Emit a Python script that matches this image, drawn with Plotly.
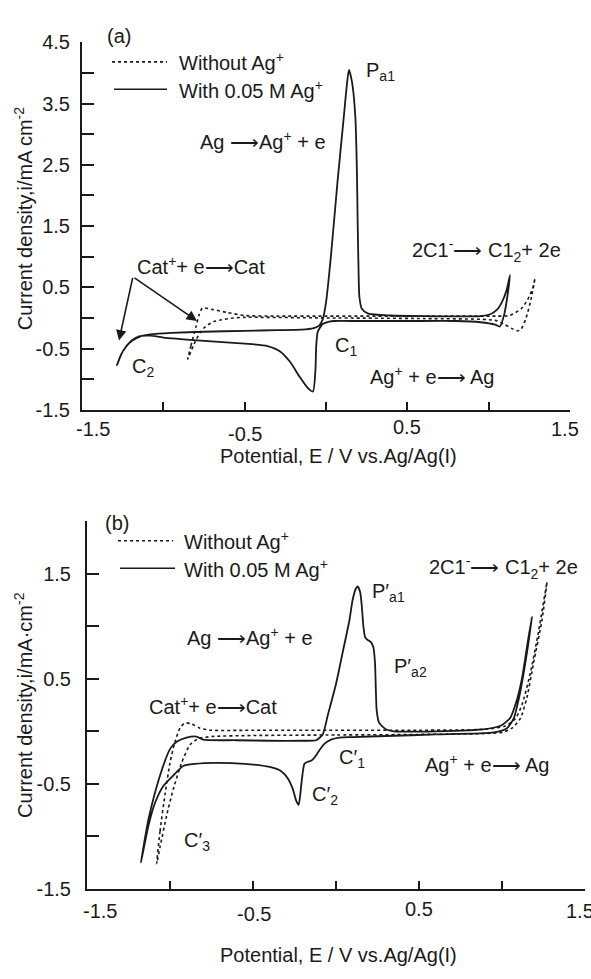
import plotly.graph_objects as go

W, H = 591, 979

# ---------------- Panel (a) data ----------------
E_a_without = [-0.85, -0.83, -0.80, -0.78, -0.76, -0.70, -0.61, -0.50, -0.30, 0.00, 0.50, 0.90,
               1.05, 1.13, 1.20, 1.24, 1.27, 1.285,
               1.26, 1.23, 1.20, 1.18, 1.14, 1.10, 1.04, 0.60, 0.00, -0.50, -0.57, -0.64, -0.69,
               -0.74, -0.77, -0.81, -0.85]
i_a_without = [-0.67, -0.45, -0.15, 0.05, 0.16, 0.14, 0.09, 0.04, 0.03, 0.03, 0.03, 0.03,
               0.03, 0.04, 0.15, 0.30, 0.48, 0.65,
               0.30, 0.00, -0.18, -0.21, -0.17, -0.11, -0.04, -0.01, 0.00, 0.01, 0.00, -0.03, -0.06,
               -0.14, -0.22, -0.42, -0.67]

E_a_with = [-1.285, -1.26, -1.23, -1.19, -1.14, -1.08, -0.95, -0.75, -0.50, -0.30, -0.15, -0.08,
            -0.04, -0.02, 0.00, 0.03, 0.07, 0.11, 0.13, 0.141, 0.16, 0.18, 0.19, 0.195, 0.20,
            0.205, 0.22, 0.26, 0.40, 0.60, 0.80, 0.95, 1.01, 1.05, 1.08, 1.11, 1.131,
            1.115, 1.095, 1.069, 1.04, 0.95, 0.80, 0.50, 0.20, 0.05, 0.02, -0.02, -0.05, -0.06,
            -0.065, -0.08, -0.11, -0.16, -0.22, -0.28, -0.36, -0.50, -0.77, -1.00, -1.08, -1.15,
            -1.20, -1.25, -1.285]
i_a_with = [-0.77, -0.60, -0.47, -0.37, -0.30, -0.27, -0.245, -0.225, -0.21, -0.20, -0.19, -0.17,
            -0.12, -0.02, 0.25, 1.00, 2.20, 3.30, 3.85, 4.05, 3.85, 3.30, 2.40, 1.50, 0.80,
            0.35, 0.15, 0.07, 0.04, 0.03, 0.025, 0.03, 0.06, 0.13, 0.25, 0.45, 0.70,
            0.35, 0.05, -0.14, -0.11, -0.07, -0.05, -0.05, -0.05, -0.05, -0.06, -0.10, -0.22, -0.45,
            -0.85, -1.20, -1.15, -0.97, -0.72, -0.55, -0.46, -0.42, -0.37, -0.32, -0.29, -0.30,
            -0.38, -0.55, -0.77]

# ---------------- Panel (b) data ----------------
E_b_without = [-1.08, -1.06, -1.03, -1.00, -0.97, -0.94, -0.91, -0.87, -0.82, -0.75, -0.50, 0.00,
               0.50, 0.90, 1.02, 1.08, 1.12, 1.17, 1.22, 1.271,
               1.24, 1.19, 1.15, 1.11, 1.06, 1.00, 0.50, 0.00, -0.50, -0.75, -0.83, -0.88,
               -0.93, -0.98, -1.02, -1.06, -1.08]
i_b_without = [-1.26, -0.95, -0.60, -0.30, -0.10, 0.03, 0.08, 0.07, 0.03, 0.01, 0.01, 0.01,
               0.01, 0.02, 0.05, 0.12, 0.25, 0.55, 0.95, 1.42,
               1.05, 0.65, 0.32, 0.12, 0.03, -0.01, -0.03, -0.035, -0.04, -0.05, -0.07, -0.13,
               -0.30, -0.55, -0.80, -1.10, -1.26]

E_b_with = [-1.175, -1.13, -1.06, -1.00, -0.96, -0.90, -0.84, -0.80, -0.60, -0.40, -0.20, -0.12,
            -0.08, -0.05, 0.00, 0.04, 0.08, 0.10, 0.12, 0.13, 0.145, 0.155, 0.165, 0.175, 0.19,
            0.21, 0.225, 0.235, 0.24, 0.245, 0.26, 0.30, 0.35, 0.60, 0.90, 1.00, 1.05, 1.09,
            1.12, 1.15, 1.18,
            1.16, 1.13, 1.10, 1.07, 1.03, 0.95, 0.60, 0.30, 0.10, 0.02, -0.03, -0.07, -0.10,
            -0.13, -0.15, -0.17, -0.19, -0.205, -0.215, -0.225, -0.24, -0.26, -0.29, -0.33,
            -0.40, -0.55, -0.72, -0.85, -0.92, -0.98, -1.04, -1.09, -1.13, -1.175]
i_b_with = [-1.25, -0.84, -0.42, -0.17, -0.10, -0.06, -0.05, -0.08, -0.085, -0.09, -0.09, -0.085,
            -0.03, 0.15, 0.45, 0.75, 1.05, 1.25, 1.36, 1.38, 1.33, 1.20, 1.00, 0.90, 0.87,
            0.85, 0.80, 0.65, 0.40, 0.20, 0.08, 0.02, 0.00, 0.00, 0.02, 0.06, 0.13, 0.30,
            0.50, 0.80, 1.09,
            0.85, 0.55, 0.30, 0.12, 0.03, -0.01, -0.03, -0.045, -0.055, -0.06, -0.08, -0.12, -0.18,
            -0.25, -0.28, -0.29, -0.31, -0.45, -0.60, -0.70, -0.66, -0.55, -0.45, -0.38,
            -0.34, -0.31, -0.30, -0.31, -0.33, -0.42, -0.52, -0.68, -0.90, -1.25]

# tick labels
x_ticklabels = ["-1.5", "-0.5", "0.5", "1.5"]
x_ticklabel_vals = [-1.5, -0.5, 0.5, 1.5]
ya_vals = [-1.5 + 0.5 * k for k in range(13)]
yb_vals = [-1.5 + 0.5 * k for k in range(7)]

FONT = "Liberation Sans, Arial, sans-serif"
INK = "#1a1a1a"
FS = 20

def px(x):
    return x / W

def py(y):
    return 1 - y / H

fig = go.Figure()
line_solid = dict(color=INK, width=1.8, shape="spline", smoothing=0.6)
line_dot = dict(color=INK, width=1.6, dash="dot", shape="spline", smoothing=0.6)

fig.add_trace(go.Scatter(x=E_a_without, y=i_a_without, mode="lines", line=line_dot,
                         xaxis="x", yaxis="y", name="Without Ag+", showlegend=False))
fig.add_trace(go.Scatter(x=E_a_with, y=i_a_with, mode="lines", line=line_solid,
                         xaxis="x", yaxis="y", name="With 0.05 M Ag+", showlegend=False))
fig.add_trace(go.Scatter(x=E_b_without, y=i_b_without, mode="lines", line=line_dot,
                         xaxis="x2", yaxis="y2", name="Without Ag+", showlegend=False))
fig.add_trace(go.Scatter(x=E_b_with, y=i_b_with, mode="lines", line=line_solid,
                         xaxis="x2", yaxis="y2", name="With 0.05 M Ag+", showlegend=False))

def fmt(v):
    return f"{v:.1f}"

ya_text = [fmt(v) if k % 2 == 0 else "" for k, v in enumerate(ya_vals)]
yb_text = [fmt(v) if k % 2 == 0 else "" for k, v in enumerate(yb_vals)]

axis_common = dict(showline=True, linewidth=2, linecolor=INK, showgrid=False, zeroline=False,
                   mirror=False, tickcolor=INK, ticks="inside",
                   tickfont=dict(family=FONT, size=FS, color=INK))

fig.update_layout(
    width=W, height=H, margin=dict(l=0, r=0, t=0, b=0),
    paper_bgcolor="white", plot_bgcolor="white",
    font=dict(family=FONT, size=FS, color=INK),
    xaxis=dict(axis_common, domain=[px(82), px(570)], range=[-1.5, 1.5], anchor="y",
               tickvals=[-1, -0.5, 0, 0.5, 1], showticklabels=False, ticklen=8, tickwidth=1.5),
    yaxis=dict(axis_common, domain=[py(408), py(32)], range=[-1.5, 4.5], anchor="x",
               tickvals=ya_vals, ticktext=ya_text, ticklen=12, tickwidth=1.5, ticklabelstandoff=6),
    xaxis2=dict(axis_common, domain=[px(87), px(585)], range=[-1.5, 1.5], anchor="y2",
                tickvals=[-1, -0.5, 0, 0.5, 1], showticklabels=False, ticklen=8, tickwidth=1.5),
    yaxis2=dict(axis_common, domain=[py(898), py(522)], range=[-1.5, 2.0], anchor="x2",
                tickvals=yb_vals, ticktext=yb_text, ticklen=12, tickwidth=1.5, ticklabelstandoff=10),
)

ann = []

def txt(text, x, y, xanchor="left", size=FS, **kw):
    ann.append(dict(text=text, x=px(x), y=py(y), xref="paper", yref="paper",
                    xanchor=xanchor, yanchor="middle", showarrow=False,
                    font=dict(family=FONT, size=size, color=INK), **kw))

# x tick labels (placed on the data axes)
for lab, v, dx, dy in zip(x_ticklabels, x_ticklabel_vals, [11, 0, 0, -5], [-19, -24, -17, -19]):
    ann.append(dict(text=lab, x=v, y=-1.5, xref="x", yref="y", xanchor="center", yanchor="middle",
                    xshift=dx, yshift=dy, showarrow=False, font=dict(family=FONT, size=FS, color=INK)))
for lab, v, dx, dy in zip(x_ticklabels, x_ticklabel_vals, [13, 1, 0, -5], [-22, -25, -20, -22]):
    ann.append(dict(text=lab, x=v, y=-1.5, xref="x2", yref="y2", xanchor="center", yanchor="middle",
                    xshift=dx, yshift=dy, showarrow=False, font=dict(family=FONT, size=FS, color=INK)))

# axis titles
txt("Potential, E / V vs.Ag/Ag(I)", 338, 455, xanchor="center")
txt("Potential, E / V vs.Ag/Ag(I)", 338, 966, xanchor="center")
txt("Current density,i/mA cm<sup>-2</sup>", 23, 213, xanchor="center", textangle=-90)
txt("Current density,i/mA·cm<sup>-2</sup>", 23, 710, xanchor="center", textangle=-90)

# panel (a) labels
txt("(a)", 105, 26)
txt("Without Ag<sup>+</sup>", 177, 52)
txt("With 0.05 M Ag<sup>+</sup>", 177, 80)
txt("Ag ⟶Ag<sup>+</sup> + e", 198, 132)
txt("P<sub>a1</sub>", 364, 62)
txt("2C1<sup>-</sup>⟶ C1<sub>2</sub>+ 2e", 410, 245)
txt("C<sub>1</sub>", 333, 343)
txt("Ag<sup>+</sup> + e⟶ Ag", 368, 373)
txt("Cat<sup>+</sup>+ e⟶Cat", 135, 260)
txt("C<sub>2</sub>", 130, 365)

# panel (b) labels
txt("(b)", 103, 524)
txt("Without Ag<sup>+</sup>", 182, 542)
txt("With 0.05 M Ag<sup>+</sup>", 182, 570)
txt("Ag ⟶Ag<sup>+</sup> + e", 185, 640)
txt("2C1<sup>-</sup>⟶ C1<sub>2</sub>+ 2e", 427, 569)
txt("P′<sub>a1</sub>", 370, 595)
txt("P′<sub>a2</sub>", 392, 672)
txt("Cat<sup>+</sup>+ e⟶Cat", 147, 710)
txt("C′<sub>3</sub>", 182, 850)
txt("C′<sub>1</sub>", 337, 765)
txt("C′<sub>2</sub>", 310, 803)
txt("Ag<sup>+</sup> + e⟶ Ag", 423, 770)

# arrows (a)
for hx, hy in [(119, 337), (197, 317)]:
    ann.append(dict(text="", x=px(hx), y=py(hy), xref="paper", yref="paper",
                    ax=133 - hx, ay=273 - hy, axref="pixel", ayref="pixel",
                    showarrow=True, arrowhead=2, arrowsize=1.3, arrowwidth=1.6, arrowcolor=INK))

fig.update_layout(annotations=ann)

# legend sample lines
shapes = []
for (x0, x1, y, dash) in [(112, 167, 52, "dot"), (114, 167, 80, "solid"),
                          (118, 173, 542, "dot"), (120, 175, 570, "solid")]:
    shapes.append(dict(type="line", xref="paper", yref="paper", x0=px(x0), x1=px(x1),
                       y0=py(y), y1=py(y), line=dict(color=INK, width=1.6, dash=dash)))
fig.update_layout(shapes=shapes)

fig.write_html("out.html", config={"displayModeBar": False},
               post_script="document.body.style.margin='0';document.body.style.overflow='hidden';")
